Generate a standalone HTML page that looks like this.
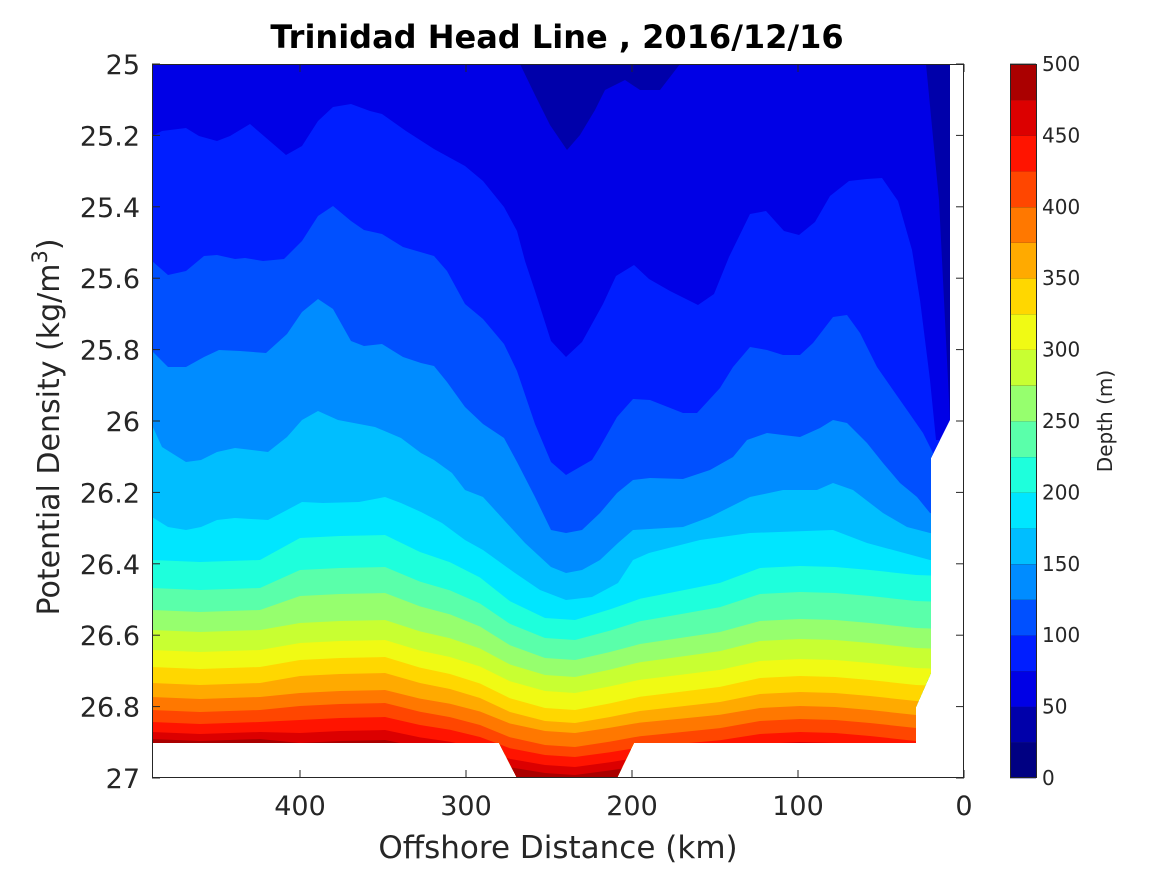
<!DOCTYPE html>
<html><head><meta charset="utf-8">
<style>
html,body{margin:0;padding:0;background:#fff;}
svg{display:block;}
text{font-family:"DejaVu Sans","Liberation Sans",sans-serif;fill:#262626;}
</style></head>
<body>
<svg id="s" width="1167" height="875" viewBox="0 0 1167 875" xmlns="http://www.w3.org/2000/svg">
<defs>
<clipPath id="dc"><path d="M152,64 H950 V420 L931,458 V673 L916,707 V743 H634 L617,778 H517 L499,743 H152 Z"/></clipPath>
</defs>
<rect width="1167" height="875" fill="#fff"/>
<g id="data" clip-path="url(#dc)"></g>
<g id="axes"></g>
<text x="557" y="48" text-anchor="middle" font-size="32" font-weight="bold" style="fill:#000">Trinidad Head Line , 2016/12/16</text>
<text x="558" y="858" text-anchor="middle" font-size="31">Offshore Distance (km)</text>
<text transform="translate(59,427) rotate(-90)" text-anchor="middle" font-size="30">Potential Density (kg/m<tspan dy="-12" font-size="21">3</tspan><tspan dy="12">)</tspan></text>
<text transform="translate(1112,421) rotate(-90)" text-anchor="middle" font-size="20">Depth (m)</text>
</svg>
<script>
var NS="http://www.w3.org/2000/svg";
var cols=["#000082","#0000aa","#0000e6","#001eff","#0050ff","#008cff","#00beff","#00e6ff","#1effdc","#5affaa","#96ff6e","#c8ff32","#f0fa14","#ffd700","#ffaa00","#ff7800","#ff4600","#ff1400","#dc0000","#aa0000"];
function el(t,a,p){var e=document.createElementNS(NS,t);for(var k in a)e.setAttribute(k,a[k]);(p||document.getElementById("s")).appendChild(e);return e;}
var D=document.getElementById("data");
el("rect",{x:150,y:60,width:820,height:730,fill:cols[2]},D);
el("polygon",{points:"520,60 520,64 535,95 550,125 567,150 580,135 595,110 605,90 625,80 640,90 660,90 680,64 680,60",fill:cols[1]},D);
el("polygon",{points:"926,60 926,64 939,200 950,420 970,420 970,60",fill:cols[1]},D);
var L={};
L[3]=[[152,136],[162,131],[186,128],[199,136],[217,141],[230,136],[250,124],[286,155],[302,146],[318,121],[333,107],[351,104],[370,111],[382,114],[406,131],[434,149],[465,166],[483,181],[504,207],[517,231],[525,261],[535,291],[551,341],[566,357],[582,342],[603,304],[616,276],[634,265],[649,279],[670,291],[698,305],[714,294],[729,257],[750,214],[766,211],[784,231],[799,235],[815,222],[830,196],[849,181],[867,179],[882,178],[898,201],[912,250],[920,300],[930,380],[936,440],[970,440]];
L[4]=[[152,261],[168,275],[186,271],[204,256],[217,255],[235,259],[245,258],[263,261],[284,259],[302,241],[318,216],[333,206],[351,221],[364,230],[382,234],[403,247],[434,256],[447,271],[465,304],[483,319],[504,344],[517,371],[535,424],[551,462],[566,475],[592,460],[600,447],[617,417],[633,399],[650,400],[683,413],[697,413],[720,388],[733,367],[750,347],[767,350],[783,355],[800,355],[813,343],[833,317],[847,315],[860,333],[877,367],[893,390],[907,410],[923,433],[933,453],[970,460]];
L[5]=[[152,351],[168,367],[186,367],[204,357],[219,350],[240,351],[266,353],[287,334],[302,312],[318,299],[333,309],[351,341],[364,346],[382,344],[403,357],[421,363],[434,366],[447,382],[465,407],[483,424],[504,438],[517,462],[535,497],[551,530],[566,533],[582,530],[600,513],[617,493],[633,480],[650,478],[683,479],[710,470],[733,457],[747,440],[767,433],[783,435],[800,437],[820,428],[833,420],[847,423],[867,443],[883,463],[900,483],[917,497],[930,513],[970,520]];
L[6]=[[152,425],[162,447],[186,462],[201,460],[217,452],[235,448],[268,452],[287,437],[302,420],[318,411],[338,420],[375,427],[401,438],[421,453],[434,460],[452,473],[465,490],[483,497],[504,520],[525,543],[551,567],[566,573],[582,570],[600,560],[618,543],[633,530],[683,527],[710,517],[750,497],[783,490],[817,490],[833,483],[853,490],[883,513],[907,527],[930,533],[970,536]];
L[7]=[[152,517],[168,527],[186,530],[201,527],[217,520],[235,518],[268,520],[287,510],[302,502],[323,503],[359,502],[385,497],[401,503],[421,512],[442,523],[465,540],[483,550],[515,573],[540,590],[566,600],[592,597],[618,583],[633,560],[649,553],[700,540],[750,533],[833,530],[867,543],[930,560],[970,562]];
var low={8:[560,535,620,567],9:[588,567,640,593],10:[610,593,660,620],11:[630,620,677,640],12:[650,640,693,660],13:[667,657,710,677],14:[683,673,723,693],15:[697,690,733,707],16:[710,703,747,720],17:[722,717,757,733],18:[732,730,767,743],19:[739,740,775,752]};
for(var k=8;k<=19;k++){
 var v=low[k],a=v[0],b=v[1],c=v[2],d=v[3];
 L[k]=[[152,a],[200,a+2],[260,a],[300,b+3],[340,b+1],[385,b],[420,b*0.8+c*0.2],[450,b*0.68+c*0.32],[480,b*0.5+c*0.5],[510,b*0.22+c*0.78],[545,c-2],[575,c],[610,c*0.8+d*0.2],[640,c*0.6+d*0.4],[680,c*0.45+d*0.55],[720,c*0.3+d*0.7],[760,d+1],[800,d-1],[835,d],[870,d+3],[916,d+8],[970,d+10]];
}
for(var k=3;k<=19;k++){
 var p=L[k].map(function(q){return q[0].toFixed(1)+","+q[1].toFixed(1)});
 p.push("970,800","150,800");
 el("polygon",{points:p.join(" "),fill:cols[k]},D);
}
var A=document.getElementById("axes");
el("rect",{x:152.5,y:64.5,width:811,height:713,fill:"none",stroke:"#262626","stroke-width":1},A);
for(var i=0;i<=4;i++){
 var x=964-166*i;
 el("line",{x1:x,y1:778,x2:x,y2:770,stroke:"#262626"},A);
 el("line",{x1:x,y1:64,x2:x,y2:72,stroke:"#262626"},A);
 var t=el("text",{x:x,y:815,"text-anchor":"middle","font-size":"27"},A);t.textContent=String(100*i);
}
var yl=["25","25.2","25.4","25.6","25.8","26","26.2","26.4","26.6","26.8","27"];
for(var i=0;i<=10;i++){
 var y=64+71.4*i;
 el("line",{x1:152,y1:y,x2:160,y2:y,stroke:"#262626"},A);
 el("line",{x1:964,y1:y,x2:956,y2:y,stroke:"#262626"},A);
 var t=el("text",{x:140,y:y+10,"text-anchor":"end","font-size":"27"},A);t.textContent=yl[i];
}
for(var i=0;i<20;i++){
 var y0=778-35.7*(i+1);
 el("rect",{x:1010,y:y0,width:26,height:35.7+0.3,fill:cols[i]},A);
 el("line",{x1:1010,y1:y0,x2:1036,y2:y0,stroke:"#222","stroke-width":0.8},A);
}
el("rect",{x:1010.5,y:64.5,width:26,height:713,fill:"none",stroke:"#262626"},A);
for(var i=0;i<=10;i++){
 var y=778-71.4*i;
 var t=el("text",{x:1042,y:y+7,"font-size":"20"},A);t.textContent=String(50*i);
}
</script>
</body></html>
